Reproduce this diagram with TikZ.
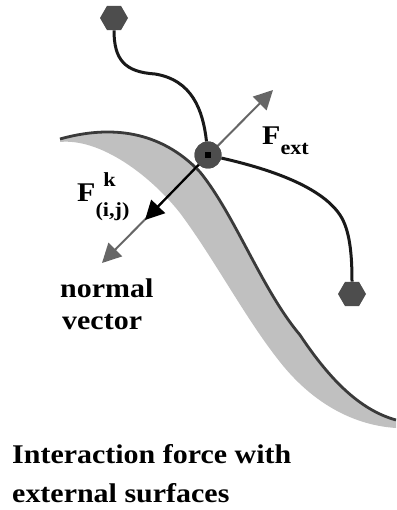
\documentclass[tikz,border=0pt]{standalone}
\usepackage{fontspec}
\setmainfont{Liberation Serif}
\usetikzlibrary{shapes.geometric,arrows.meta}
\definecolor{beadgray}{HTML}{4D4D4D}
\definecolor{bandgray}{HTML}{C0C0C0}
\definecolor{edgegray}{HTML}{3A3A3A}
\definecolor{arrowgray}{HTML}{666666}
\newcommand\widetext[1]{\scalebox{1.11}[1]{#1}}
\begin{document}
\begin{tikzpicture}[x=1pt,y=-1pt,
  bead/.style={regular polygon, regular polygon sides=6, fill=beadgray, inner sep=0pt, minimum size=28pt},
  wire/.style={draw=black!90, line width=3pt},
  lbl/.style={font=\bfseries\fontsize{27}{27}\selectfont, inner sep=0pt}]
\useasboundingbox (0,0) rectangle (396,510);
% surface band
\fill[bandgray] (60,139) .. controls (110,125) and (160,130) .. (200,172)
  .. controls (235,215) and (262,290) .. (300,335)
  .. controls (330,380) and (360,410) .. (396,420)
  -- (396,428)
  .. controls (350,425) and (310,400) .. (280,362)
  .. controls (245,318) and (215,260) .. (180,213)
  .. controls (150,175) and (100,138) .. (60,142) -- cycle;
\draw[edgegray, line width=2.8pt] (60,139) .. controls (110,125) and (160,130) .. (200,172)
  .. controls (235,215) and (262,290) .. (300,335)
  .. controls (330,380) and (360,410) .. (396,420);
% nodes
\node[bead] (top) at (114,18) {};
\node[bead] (br) at (352,294) {};
\node[circle, fill=beadgray, minimum size=27pt, inner sep=0pt] (c) at (208,155) {};
\coordinate (ntip) at (102,263);
\coordinate (ftip) at (273,90);
\coordinate (ktip) at (145,220);
% wires
\draw[wire] (top.south) .. controls (114,60) and (125,72) .. (155,74)
  .. controls (192,80) and (203,110) .. (c);
\draw[wire] (c) .. controls (265,168) and (320,185) .. (340,215)
  .. controls (350,230) and (352,255) .. (br);
% arrows
\draw[arrowgray, line width=2pt, {Triangle[length=19pt,width=19pt]}-{Triangle[length=19pt,width=19pt]}] (ntip) -- (ftip);
\draw[black, line width=2.2pt, -{Triangle[length=19pt,width=19pt]}] (c.center) -- (ktip);
\node[circle, fill=beadgray, minimum size=27pt, inner sep=0pt] at (c) {};
\fill[black] (205,152) rectangle (211,158);
% labels
\node[lbl, anchor=base west] (fext) at (262,145) {\widetext{F\raisebox{-10pt}{\fontsize{20}{20}\selectfont ext}}};
\node[lbl, anchor=base west] (fk) at (77,202) {\widetext{F\rlap{\hspace{7pt}\raisebox{15pt}{\fontsize{20}{20}\selectfont k}}\raisebox{-15pt}{\fontsize{20}{20}\selectfont (i,j)}}};
\node[lbl, anchor=base west] (normal) at (60,297) {\widetext{normal}};
\node[lbl, anchor=base west] (vector) at (62,329) {\widetext{vector}};
\node[lbl, anchor=base west] (t1) at (12,463) {\widetext{Interaction force with}};
\node[lbl, anchor=base west] (t2) at (12,502) {\widetext{external surfaces}};
\end{tikzpicture}
\end{document}
